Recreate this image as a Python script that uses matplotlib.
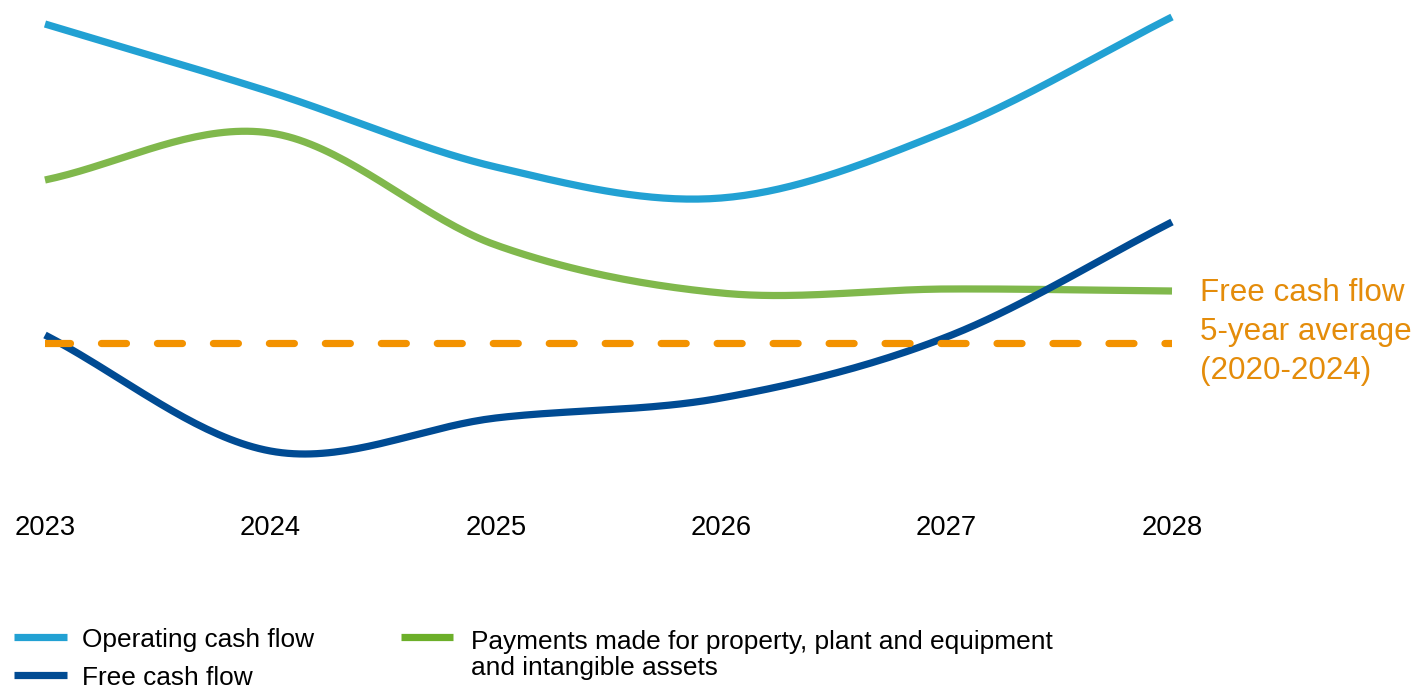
import numpy as np
import matplotlib
matplotlib.use("Agg")
import matplotlib.pyplot as plt
from matplotlib.lines import Line2D

plt.rcParams['font.family'] = ['Liberation Sans', 'DejaVu Sans']
plt.rcParams['lines.scale_dashes'] = False

# Outlook values (indexed units)
years = [2023, 2024, 2025, 2026, 2027, 2028]
operating_cf = [9.52, 8.16, 6.66, 6.04, 7.38, 9.66]
capex = [6.40, 7.34, 5.10, 4.14, 4.22, 4.18]
free_cf = [3.30, 0.98, 1.64, 2.04, 3.26, 5.56]
fcf_avg_2020_2024 = 3.14

C_OPER = '#22a1d3'
C_FREE = '#004b93'
C_CAPEX = '#80b84c'
C_CAPEX_KEY = '#6caf2a'
C_AVG = '#f39200'
C_AVG_TEXT = '#e48c0a'


def smooth(xs, ys, n=40):
    # Catmull-Rom through the yearly points (same look as spreadsheet smoothing)
    xs = np.asarray(xs, float)
    ys = np.asarray(ys, float)
    px = np.concatenate([[2 * xs[0] - xs[1]], xs, [2 * xs[-1] - xs[-2]]])
    py = np.concatenate([[2 * ys[0] - ys[1]], ys, [2 * ys[-1] - ys[-2]]])
    out_x, out_y = [], []
    t = np.linspace(0, 1, n)
    for i in range(1, len(px) - 2):
        p0x, p1x, p2x, p3x = px[i - 1:i + 3]
        p0y, p1y, p2y, p3y = py[i - 1:i + 3]
        # bezier control points
        c1x, c1y = p1x + (p2x - p0x) / 6, p1y + (p2y - p0y) / 6
        c2x, c2y = p2x - (p3x - p1x) / 6, p2y - (p3y - p1y) / 6
        bx = (1 - t) ** 3 * p1x + 3 * (1 - t) ** 2 * t * c1x + 3 * (1 - t) * t ** 2 * c2x + t ** 3 * p2x
        by = (1 - t) ** 3 * p1y + 3 * (1 - t) ** 2 * t * c1y + 3 * (1 - t) * t ** 2 * c2y + t ** 3 * p2y
        out_x.extend(bx if i == 1 else bx[1:])
        out_y.extend(by if i == 1 else by[1:])
    return np.array(out_x), np.array(out_y)


fig = plt.figure(figsize=(14.2, 6.86), dpi=100)
ax = fig.add_axes([45 / 1420, 186 / 686, 1127 / 1420, 500 / 686])

lw = 5.2
x, y = smooth(years, operating_cf)
ax.plot(x, y, color=C_OPER, lw=lw, solid_capstyle='butt', clip_on=False)
x, y = smooth(years, capex)
ax.plot(x, y, color=C_CAPEX, lw=lw, solid_capstyle='butt', clip_on=False)
x, y = smooth(years, free_cf)
ax.plot(x, y, color=C_FREE, lw=lw, solid_capstyle='butt', clip_on=False)

# dashed average line, clipped at the first and last year
avg_line, = ax.plot([years[0], years[-1]], [fcf_avg_2020_2024] * 2, color=C_AVG, lw=lw,
                    dash_capstyle='round', clip_on=True)
avg_line.set_dashes((18.0, 22.3))

ax.text(1.025, 0.336, 'Free cash flow\n5-year average\n(2020-2024)',
        transform=ax.transAxes, color=C_AVG_TEXT, fontsize=22.6, va='center', ha='left',
        linespacing=1.4)

ax.set_xlim(years[0], years[-1])
ax.set_ylim(0, 10)
ax.set_xticks(years)
ax.set_xticklabels([str(v) for v in years], fontsize=19.7)
ax.tick_params(axis='x', length=0, pad=11)
ax.set_yticks([])
for s in ax.spines.values():
    s.set_visible(False)

# legend, drawn in figure pixels
W, H = 1420, 686
def key(x0, x1, yc, color, label, tx, ty):
    fig.add_artist(Line2D([x0 / W, x1 / W], [1 - yc / H] * 2, color=color, lw=lw,
                          solid_capstyle='butt', transform=fig.transFigure))
    fig.text(tx / W, 1 - ty / H, label, fontsize=18.9, va='center', ha='left', linespacing=1.1)

key(14, 67, 637, C_OPER, 'Operating cash flow', 82, 640)
key(14, 67, 675, C_FREE, 'Free cash flow', 82, 678)
key(401, 453, 637, C_CAPEX_KEY, 'Payments made for property, plant and equipment\nand intangible assets', 471, 655)

fig.savefig('out.png', dpi=100)
